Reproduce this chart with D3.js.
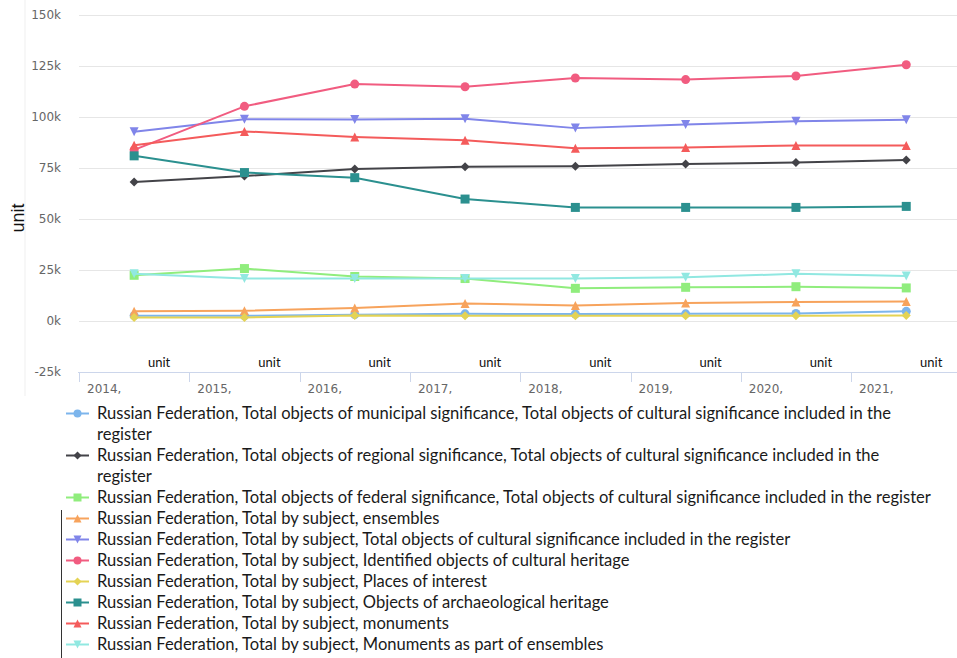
<!DOCTYPE html>
<meta charset="utf-8">
<script src="https://cdn.jsdelivr.net/npm/d3@7"></script>
<style>
    body { margin: 0; background: #fff; }
    svg { display: block; }
</style>
<div id="chart"></div>
<script>
    // Data
    var years = ["2014", "2015", "2016", "2017", "2018", "2019", "2020", "2021"];
    var yearLabels = ["2014,", "2015,", "2016,", "2017,", "2018,", "2019,", "2020,", "2021,"];
    var unitLabels = ["unit", "unit", "unit", "unit", "unit", "unit", "unit", "unit"];
    var yTicks = [-25000, 0, 25000, 50000, 75000, 100000, 125000, 150000];

    var municipal = [2500, 2400, 3000, 3400, 3300, 3400, 3600, 4600];
    var regional = [68100, 71000, 74500, 75600, 75800, 76900, 77600, 78900];
    var federal = [22300, 25600, 21700, 20700, 15900, 16400, 16700, 16100];
    var ensembles = [4600, 4900, 6200, 8400, 7500, 8700, 9200, 9500];
    var registerTotal = [92700, 98900, 98700, 99100, 94500, 96300, 97900, 98600];
    var identified = [83800, 105200, 116100, 114800, 119100, 118300, 120100, 125600];
    var places = [1600, 1600, 2600, 2400, 2500, 2500, 2500, 2600];
    var archaeological = [80900, 72700, 70200, 59700, 55600, 55600, 55600, 56100];
    var monuments = [86100, 92900, 90200, 88600, 84600, 85000, 86000, 86000];
    var monumentsInEnsembles = [23000, 20700, 20700, 20700, 20700, 21300, 23000, 22000];

    var seriesNames = [
        "Russian Federation, Total objects of municipal significance, Total objects of cultural significance included in the register",
        "Russian Federation, Total objects of regional significance, Total objects of cultural significance included in the register",
        "Russian Federation, Total objects of federal significance, Total objects of cultural significance included in the register",
        "Russian Federation, Total by subject, ensembles",
        "Russian Federation, Total by subject, Total objects of cultural significance included in the register",
        "Russian Federation, Total by subject, Identified objects of cultural heritage",
        "Russian Federation, Total by subject, Places of interest",
        "Russian Federation, Total by subject, Objects of archaeological heritage",
        "Russian Federation, Total by subject, monuments",
        "Russian Federation, Total by subject, Monuments as part of ensembles"
    ];
    var seriesValues = [municipal, regional, federal, ensembles, registerTotal,
        identified, places, archaeological, monuments, monumentsInEnsembles];
    var seriesColors = ["#7cb5ec", "#434348", "#90ed7d", "#f7a35c", "#8085e9",
        "#f15c80", "#e4d354", "#2b908f", "#f45b5b", "#91e8e1"];
    var seriesSymbols = ["circle", "diamond", "square", "triangle", "triangle-down",
        "circle", "diamond", "square", "triangle", "triangle-down"];

    var W = 957, H = 658;
    var plot = { left: 79, top: 15, bottom: 371.7, band: 110.3 };

    var svg = d3.select("#chart").append("svg")
        .attr("width", W)
        .attr("height", H);

    var x = d3.scaleBand()
        .domain(years)
        .range([plot.left, plot.left + plot.band * years.length]);

    var y = d3.scaleLinear()
        .domain([-25000, 150000])
        .range([plot.bottom, plot.top]);

    // marker paths, highcharts style
    function marker(type, r) {
        if (type === "circle") {
            return "M" + (-r) + ",0a" + r + "," + r + " 0 1,0 " + (2 * r) + ",0a" + r + "," + r + " 0 1,0 " + (-2 * r) + ",0Z";
        } else if (type === "square") {
            return "M" + (-r) + "," + (-r) + "h" + (2 * r) + "v" + (2 * r) + "h" + (-2 * r) + "Z";
        } else if (type === "diamond") {
            return "M0," + (-r) + "L" + r + ",0L0," + r + "L" + (-r) + ",0Z";
        } else if (type === "triangle") {
            return "M0," + (-r) + "L" + r + "," + r + "L" + (-r) + "," + r + "Z";
        }
        return "M" + (-r) + "," + (-r) + "L" + r + "," + (-r) + "L0," + r + "Z";
    }

    // faint frame on the left of the chart image
    svg.append("line")
        .attr("x1", 25).attr("x2", 25)
        .attr("y1", 0).attr("y2", 396)
        .attr("stroke", "#efefef");

    // grid
    svg.append("g")
        .selectAll("line")
        .data(yTicks.filter(function (d) { return d > -25000; }))
        .enter().append("line")
        .attr("x1", plot.left).attr("x2", W)
        .attr("y1", function (d) { return Math.round(y(d)) + 0.5; })
        .attr("y2", function (d) { return Math.round(y(d)) + 0.5; })
        .attr("stroke", "#e6e6e6");

    // y axis labels
    var yAxis = svg.append("g")
        .attr("transform", "translate(61,0)")
        .call(d3.axisLeft(y).tickValues(yTicks).tickSize(0).tickPadding(0)
            .tickFormat(function (d) { return (d / 1000) + "k"; }));
    yAxis.select(".domain").remove();
    yAxis.selectAll("text")
        .attr("fill", "#666")
        .attr("font-family", "DejaVu Sans")
        .attr("font-size", "12px");

    // y title
    svg.append("text")
        .attr("transform", "translate(24,218) rotate(-90)")
        .attr("text-anchor", "middle")
        .attr("font-family", "Liberation Sans")
        .attr("font-size", "18px")
        .attr("fill", "#111")
        .text("unit");

    // x axis
    var xAxis = svg.append("g")
        .attr("transform", "translate(0," + (Math.round(plot.bottom) + 0.5) + ")")
        .call(d3.axisBottom(x).tickSize(0).tickFormat(""));
    xAxis.select(".domain")
        .attr("d", "M" + (plot.left - 1) + ",0H" + W)
        .attr("stroke", "#ccd6eb");
    svg.append("g")
        .selectAll("line")
        .data(years)
        .enter().append("line")
        .attr("x1", function (d) { return Math.round(x(d)) + 0.5; })
        .attr("x2", function (d) { return Math.round(x(d)) + 0.5; })
        .attr("y1", Math.round(plot.bottom))
        .attr("y2", Math.round(plot.bottom) + 10)
        .attr("stroke", "#ccd6eb");

    svg.append("g")
        .selectAll("text")
        .data(years)
        .enter().append("text")
        .attr("x", function (d) { return x(d) + 8; })
        .attr("y", 393)
        .attr("fill", "#666")
        .attr("font-family", "DejaVu Sans")
        .attr("font-size", "12px")
        .text(function (d, i) { return yearLabels[i]; });

    svg.append("g")
        .selectAll("text")
        .data(years)
        .enter().append("text")
        .attr("x", function (d) { return x(d) + x.bandwidth() / 2 + 25; })
        .attr("y", 367)
        .attr("text-anchor", "middle")
        .attr("fill", "#111")
        .attr("font-family", "Lato")
        .attr("font-size", "13px")
        .text(function (d, i) { return unitLabels[i]; });

    // series
    var line = d3.line()
        .x(function (d, i) { return x(years[i]) + x.bandwidth() / 2; })
        .y(function (d) { return y(d); });

    seriesValues.forEach(function (vals, s) {
        var g = svg.append("g");
        g.append("path")
            .datum(vals)
            .attr("d", line)
            .attr("fill", "none")
            .attr("stroke", seriesColors[s])
            .attr("stroke-width", 2)
            .attr("stroke-linejoin", "round");
        g.selectAll("path.m")
            .data(vals)
            .enter().append("path")
            .attr("class", "m")
            .attr("transform", function (d, i) {
                return "translate(" + (x(years[i]) + x.bandwidth() / 2) + "," + y(d) + ")";
            })
            .attr("d", marker(seriesSymbols[s], 4.5))
            .attr("fill", seriesColors[s]);
    });

    // legend
    var legend = svg.append("g");
    var probe = legend.append("text")
        .attr("font-family", "Lato")
        .attr("font-size", "14px")
        .text(seriesNames[2]);
    var fontSize = 14 * 835 / probe.node().getComputedTextLength();
    probe.remove();
    var wrapWidth = 838;

    var lineNo = 0;
    seriesNames.forEach(function (name, s) {
        var baseY = 419 + 21 * lineNo;
        var item = legend.append("g");
        item.append("line")
            .attr("x1", 66).attr("x2", 89)
            .attr("y1", baseY - 5.5).attr("y2", baseY - 5.5)
            .attr("stroke", seriesColors[s])
            .attr("stroke-width", 2);
        item.append("path")
            .attr("transform", "translate(77.5," + (baseY - 5.5) + ")")
            .attr("d", marker(seriesSymbols[s], 4))
            .attr("fill", seriesColors[s]);

        var t = item.append("text")
            .attr("font-family", "Lato")
            .attr("font-size", fontSize + "px")
            .attr("fill", "#1a1a1a");
        var words = name.split(" ");
        var current = [];
        var tspan = t.append("tspan").attr("x", 97).attr("y", baseY);
        words.forEach(function (w) {
            current.push(w);
            tspan.text(current.join(" "));
            if (tspan.node().getComputedTextLength() > wrapWidth && current.length > 1) {
                current.pop();
                tspan.text(current.join(" "));
                current = [w];
                lineNo++;
                tspan = t.append("tspan").attr("x", 97).attr("y", 419 + 21 * lineNo).text(w);
            }
        });
        lineNo++;
    });

    // thin rule left of the lower legend entries
    svg.append("line")
        .attr("x1", 61.5).attr("x2", 61.5)
        .attr("y1", 510).attr("y2", H)
        .attr("stroke", "#333")
        .attr("stroke-width", 1);
</script>
